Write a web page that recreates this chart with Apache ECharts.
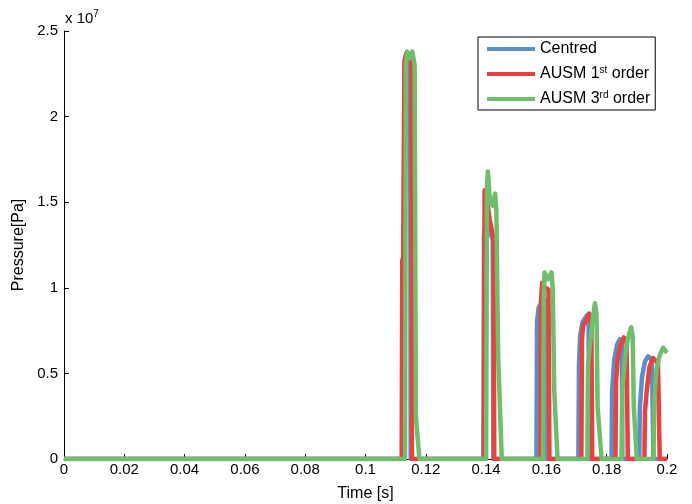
<!DOCTYPE html>
<html style="height: 100%">
<head>
    <meta charset="utf-8">
    <title>Pressure history</title>
    <script type="text/javascript" src="https://cdn.jsdelivr.net/npm/echarts@6/dist/echarts.min.js"></script>
</head>
<body style="height: 100%; margin: 0; background: #fff;">
<div id="container" style="width: 692px; height: 504px;"></div>
<script type="text/javascript">
    // time [s] and pressure [x 10^7 Pa]
    var centredT = [0, 0.1126, 0.1129, 0.1136, 0.1144, 0.1148, 0.1150,
        0.1391, 0.1393, 0.1400, 0.1412, 0.1422, 0.1424,
        0.1567, 0.1569, 0.1574, 0.1585, 0.1598, 0.1601,
        0.1706, 0.1708, 0.1712, 0.1720, 0.1735, 0.1740, 0.1742,
        0.1816, 0.1818, 0.1825, 0.1835, 0.1844, 0.1850, 0.1852,
        0.1908, 0.1910, 0.1917, 0.1927, 0.1937, 0.1950, 0.1955, 0.2];
    var centredP = [0, 0, 2.26, 2.33, 2.31, 2.28, 0,
        0, 1.30, 1.40, 1.33, 1.28, 0,
        0, 0.80, 0.88, 0.92, 0.93, 0,
        0, 0.55, 0.72, 0.80, 0.84, 0.80, 0,
        0, 0.40, 0.58, 0.67, 0.70, 0.68, 0,
        0, 0.30, 0.48, 0.57, 0.60, 0.58, 0, 0];

    var ausm1T = [0, 0.1120, 0.1122, 0.1125, 0.1129, 0.1135, 0.1145, 0.1152, 0.1154,
        0.1393, 0.1395, 0.1402, 0.1412, 0.1425, 0.1427,
        0.1580, 0.1582, 0.1586, 0.1596, 0.1607, 0.1610,
        0.1716, 0.1718, 0.1722, 0.1730, 0.1742, 0.1749, 0.1752,
        0.1829, 0.1831, 0.1836, 0.1845, 0.1857, 0.1866, 0.1870,
        0.1925, 0.1927, 0.1933, 0.1942, 0.1954, 0.1970, 0.1976, 0.2];
    var ausm1P = [0, 0, 1.16, 1.18, 2.32, 2.37, 2.34, 2.30, 0,
        0, 1.57, 1.52, 1.40, 1.28, 0,
        0, 0.92, 1.03, 1.00, 0.99, 0,
        0, 0.70, 0.78, 0.80, 0.85, 0.82, 0,
        0, 0.45, 0.58, 0.66, 0.71, 0.68, 0,
        0, 0.28, 0.40, 0.54, 0.59, 0.56, 0, 0];

    var ausm3T = [0, 0.1131, 0.1134, 0.1138, 0.1146, 0.1155, 0.1159, 0.1163, 0.1167, 0.1179,
        0.1400, 0.1403, 0.1406, 0.1413, 0.1422, 0.1430, 0.1434, 0.1440, 0.1452,
        0.1589, 0.1591, 0.1594, 0.1605, 0.1617, 0.1621, 0.1626, 0.1637,
        0.1736, 0.1738, 0.1745, 0.1752, 0.1761, 0.1766, 0.1770, 0.1783,
        0.1849, 0.1852, 0.1860, 0.1870, 0.1881, 0.1886, 0.1890, 0.1900,
        0.1955, 0.1958, 0.1965, 0.1975, 0.1987, 0.2];
    var ausm3P = [0, 0, 2.30, 2.38, 2.34, 2.38, 2.39, 2.30, 0.25, 0,
        0, 1.60, 1.68, 1.50, 1.48, 1.55, 1.45, 0.60, 0,
        0, 0.95, 1.09, 1.05, 1.09, 1.00, 0.40, 0,
        0, 0.55, 0.68, 0.80, 0.91, 0.85, 0.30, 0,
        0, 0.40, 0.58, 0.70, 0.77, 0.72, 0.30, 0,
        0, 0.35, 0.52, 0.60, 0.65, 0.62];

    var seriesNames = ['Centred', 'AUSM 1st order', 'AUSM 3rd order'];
    var seriesColors = ['#5b8ec8', '#e8413f', '#6ebe6b'];

    function pairs(t, p) {
        var out = [];
        for (var i = 0; i < t.length; i++) {
            out.push([t[i], p[i]]);
        }
        return out;
    }

    var seriesData = [pairs(centredT, centredP), pairs(ausm1T, ausm1P), pairs(ausm3T, ausm3P)];

    var series = [];
    for (var i = 0; i < seriesNames.length; i++) {
        series.push({
            name: seriesNames[i],
            type: 'line',
            data: seriesData[i],
            showSymbol: false,
            animation: false,
            lineStyle: {width: 4.5, color: seriesColors[i], join: 'round'},
            itemStyle: {color: seriesColors[i]}
        });
    }

    var font = 'Liberation Sans, Arial, sans-serif';
    var myChart = echarts.init(document.getElementById('container'));
    var option = {
        backgroundColor: '#fff',
        animation: false,
        title: {
            text: '{a|x 10}{b|7}',
            left: 60,
            top: 4,
            textStyle: {
                fontWeight: 'normal',
                rich: {
                    a: {fontFamily: font, fontSize: 15, fontWeight: 'normal', color: '#000', lineHeight: 20},
                    b: {fontFamily: font, fontSize: 10, fontWeight: 'normal', color: '#000', lineHeight: 10, verticalAlign: 'top'}
                }
            }
        },
        legend: {
            orient: 'vertical',
            left: 478,
            top: 37,
            padding: [4, 5, 3, 9],
            itemGap: 8,
            itemWidth: 48,
            itemHeight: 4,
            icon: 'rect',
            borderColor: '#000',
            borderWidth: 1,
            backgroundColor: '#fff',
            data: seriesNames,
            formatter: function (name) {
                if (name == 'AUSM 1st order') return '{n|AUSM 1}{s|st}{n| order}';
                if (name == 'AUSM 3rd order') return '{n|AUSM 3}{s|rd}{n| order}';
                return '{n|' + name + '}';
            },
            textStyle: {
                rich: {
                    n: {fontFamily: font, fontSize: 16, color: '#000', lineHeight: 18},
                    s: {fontFamily: font, fontSize: 10, color: '#000', lineHeight: 8, verticalAlign: 'top'}
                }
            }
        },
        grid: {left: 64, right: 25, top: 31, bottom: 45, outerBoundsMode: 'none'},
        xAxis: {
            type: 'value',
            min: 0,
            max: 0.2,
            interval: 0.02,
            name: 'Time [s]',
            nameLocation: 'middle',
            nameGap: 27,
            nameTextStyle: {fontFamily: font, fontSize: 16, color: '#000'},
            axisLine: {lineStyle: {color: '#000', width: 1}},
            axisTick: {inside: true, length: 5, lineStyle: {color: '#000'}},
            axisLabel: {fontFamily: font, fontSize: 15, color: '#000', margin: 3},
            splitLine: {show: false}
        },
        yAxis: {
            type: 'value',
            min: 0,
            max: 2.5,
            interval: 0.5,
            name: 'Pressure[Pa]',
            nameLocation: 'middle',
            nameGap: 34,
            nameTextStyle: {fontFamily: font, fontSize: 16, color: '#000'},
            axisLine: {show: true, lineStyle: {color: '#000', width: 1}},
            axisTick: {show: true, inside: true, length: 5, lineStyle: {color: '#000'}},
            axisLabel: {fontFamily: font, fontSize: 15, color: '#000', margin: 6},
            splitLine: {show: false}
        },
        series: series
    };
    myChart.setOption(option);
</script>
</body>
</html>
